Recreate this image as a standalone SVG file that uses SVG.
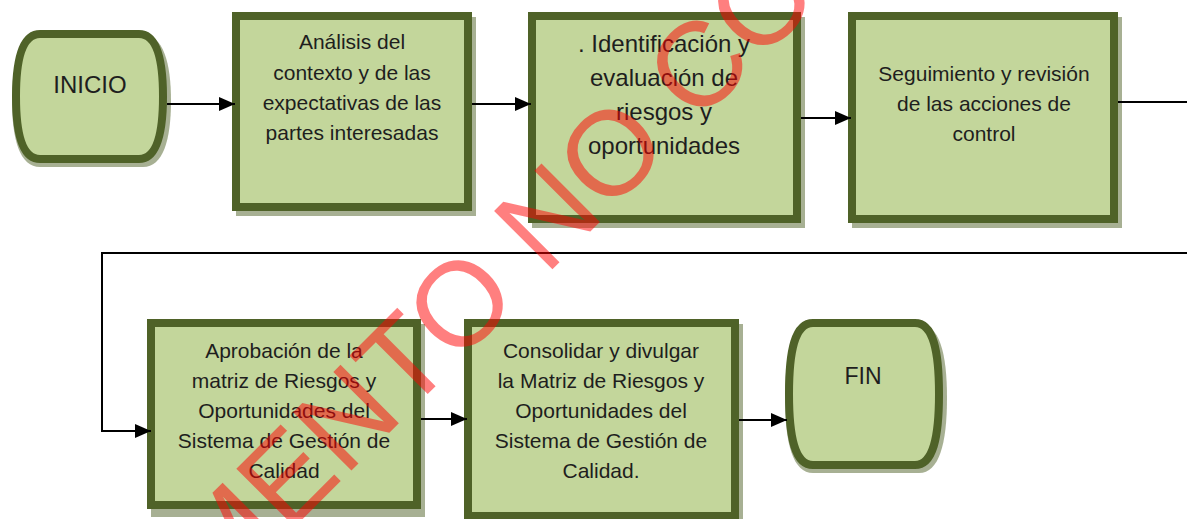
<svg xmlns="http://www.w3.org/2000/svg" width="1187" height="519" viewBox="0 0 1187 519">
<style>
.box{fill:#C3D69B;stroke:#4F6228;stroke-width:8}
.shadow{fill:#4F6228;opacity:0.5}
.t{font-family:"Liberation Sans",Arial,sans-serif;font-size:21px;fill:#1E1E1E;text-anchor:middle}
.conn{fill:none;stroke:#000;stroke-width:2}
.wm{font-family:"Liberation Sans",Arial,sans-serif;font-size:120px;fill:#FF0000;fill-opacity:0.5}
</style>
<defs>
<marker id="arr" markerUnits="userSpaceOnUse" viewBox="0 0 16 14" markerWidth="16" markerHeight="14" refX="16" refY="7" orient="auto">
<path d="M0,0 L16,7 L0,14 Z" fill="#000"/>
</marker>
</defs>
<rect width="1187" height="519" fill="#FFFFFF"/>

<g id="inicio">
<path class="shadow" d="M40,35 H143 C163,35 171,62 171,101 C171,140 163,167 143,167 H40 C20,167 12,140 12,101 C12,62 20,35 40,35 Z" transform="translate(0,0)"/>
<path class="box" d="M40,34 H139 C157,34 163,60 163,96.5 C163,133 157,159 139,159 H40 C22,159 16,133 16,96.5 C16,60 22,34 40,34 Z"/>
<text class="t" x="90" y="93" style="font-size:24px">INICIO</text>
</g>

<g id="analisis">
<rect class="shadow" x="236" y="17" width="240" height="199"/>
<rect class="box" x="236" y="16" width="232" height="191"/>
<text class="t" x="352" y="49">Análisis del</text>
<text class="t" x="352" y="80">contexto y de las</text>
<text class="t" x="352" y="110">expectativas de las</text>
<text class="t" x="352" y="140">partes interesadas</text>
</g>

<g id="identificacion">
<rect class="shadow" x="532" y="17" width="273" height="211"/>
<rect class="box" x="532" y="16" width="265" height="203"/>
<text class="t" x="664" y="52" style="font-size:24px">. Identificación y</text>
<text class="t" x="664" y="86" style="font-size:24px">evaluación de</text>
<text class="t" x="664" y="120" style="font-size:24px">riesgos y</text>
<text class="t" x="664" y="154" style="font-size:24px">oportunidades</text>
</g>

<g id="seguimiento">
<rect class="shadow" x="852" y="17" width="270" height="211"/>
<rect class="box" x="852" y="16" width="262" height="203"/>
<text class="t" x="984" y="81">Seguimiento y revisión</text>
<text class="t" x="984" y="111">de las acciones de</text>
<text class="t" x="984" y="141">control</text>
</g>

<g id="aprobacion">
<rect class="shadow" x="151" y="324" width="274" height="193"/>
<rect class="box" x="151" y="323" width="266" height="182"/>
<text class="t" x="284" y="358">Aprobación de la</text>
<text class="t" x="284" y="388">matriz de Riesgos y</text>
<text class="t" x="284" y="418">Oportunidades del</text>
<text class="t" x="284" y="448">Sistema de Gestión de</text>
<text class="t" x="284" y="478">Calidad</text>
</g>

<g id="consolidar">
<rect class="shadow" x="468" y="324" width="275" height="200"/>
<rect class="box" x="468" y="323" width="267" height="193"/>
<text class="t" x="601" y="358">Consolidar y divulgar</text>
<text class="t" x="601" y="388">la Matriz de Riesgos y</text>
<text class="t" x="601" y="418">Oportunidades del</text>
<text class="t" x="601" y="448">Sistema de Gestión de</text>
<text class="t" x="601" y="478">Calidad.</text>
</g>

<g id="fin">
<path class="shadow" d="M813,324 H919 C939,324 947,352 947,398 C947,444 939,473 919,473 H813 C793,473 785,444 785,398 C785,352 793,324 813,324 Z"/>
<path class="box" d="M813,323 H915 C933,323 939,350 939,394 C939,438 933,465 915,465 H813 C795,465 789,438 789,394 C789,350 795,323 813,323 Z"/>
<text class="t" x="863" y="384" style="font-size:23px">FIN</text>
</g>

<g id="connectors">
<path class="conn" d="M167,104 H235" marker-end="url(#arr)"/>
<path class="conn" d="M472,104 H531" marker-end="url(#arr)"/>
<path class="conn" d="M801,118 H851" marker-end="url(#arr)"/>
<path class="conn" d="M1118,102 H1196 V253 H102 V431 H151" marker-end="url(#arr)"/>
<path class="conn" d="M421,419 H467" marker-end="url(#arr)"/>
<path class="conn" d="M739,420 H787" marker-end="url(#arr)"/>
</g>

<text class="wm" transform="translate(-32.7,854.5) rotate(-45)">DOCUMENTO NO CONTROLADO</text>
</svg>
